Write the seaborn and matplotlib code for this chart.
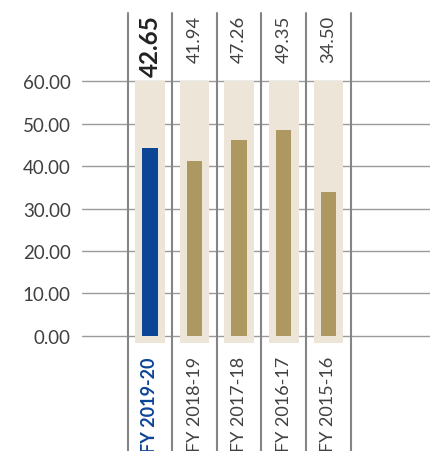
import matplotlib
matplotlib.use("Agg")
import matplotlib.pyplot as plt
import matplotlib.transforms as mtransforms
import pandas as pd
import seaborn as sns

# ---------------------------------------------------------------------------
# Data
# ---------------------------------------------------------------------------
years = ["FY 2019-20", "FY 2018-19", "FY 2017-18", "FY 2016-17", "FY 2015-16"]
bar_heights = [44.3, 41.3, 46.2, 48.6, 33.9]
value_labels = ["42.65", "41.94", "47.26", "49.35", "34.50"]
y_ticks = [0, 10, 20, 30, 40, 50, 60]

BLUE = "#0b4596"
GOLD = "#ae9862"
BEIGE = "#ece5d8"
GRID = "#9a9a9a"
SEP = "#858585"
TEXT = "#404040"

sns.set_theme(style="white")
plt.rcParams["font.family"] = ["Lato", "DejaVu Sans"]

df = pd.DataFrame({"year": years, "value": bar_heights})

fig = plt.figure(figsize=(4.30, 4.52), dpi=100)
ax = fig.add_axes([0.1907, 0.2316, 0.8093, 0.5956])

# beige background columns, from a little below 0 up to the axis max
y_top = max(y_ticks)
ax.bar(range(len(years)), y_top + 1.8, bottom=-1.8, width=0.665,
       color=BEIGE, zorder=1, linewidth=0)

# actual bars
sns.barplot(data=df, x="year", y="value", hue="year",
            palette=[BLUE] + [GOLD] * (len(years) - 1), saturation=1,
            width=0.345, legend=False, ax=ax, zorder=2, linewidth=0)

ax.set_xlim(-1.525, 6.28)
ax.set_ylim(-2.5, 61)
ax.set_yticks(y_ticks)
ax.set_yticklabels([f"{t:.2f}" for t in y_ticks], fontsize=13.5, color=TEXT)
ax.yaxis.grid(True, color=GRID, linewidth=1.0, zorder=0)
ax.set_axisbelow(True)
ax.tick_params(axis="y", length=0, pad=8)
ax.tick_params(axis="x", length=0, pad=7)
for s in ax.spines.values():
    s.set_visible(False)
ax.set_xlabel("")
ax.set_ylabel("")

# x labels, rotated; the current year in blue
ax.set_xticks(range(len(years)))
ax.set_xticklabels(years, rotation=90, fontsize=13, color=TEXT)
for i, lbl in enumerate(ax.get_xticklabels()):
    if i == 0:
        lbl.set_color(BLUE)
        lbl.set_fontweight("bold")

# column separators running past the axes top and bottom
for i in range(len(years) + 1):
    ax.axvline(i - 0.5, ymin=-0.39, ymax=1.238, color=SEP, linewidth=1.5,
               clip_on=False, zorder=3)

# value labels above each column
trans = mtransforms.blended_transform_factory(ax.transData, ax.transAxes)
for i, lab in enumerate(value_labels):
    if i == 0:
        ax.text(i, 1.232, lab, transform=trans, rotation=90, ha="center",
                va="top", fontsize=17.5, fontweight="bold", color="#222222")
    else:
        ax.text(i, 1.232, lab, transform=trans, rotation=90, ha="center",
                va="top", fontsize=13.3, color=TEXT)

fig.savefig("out.png", dpi=100)
